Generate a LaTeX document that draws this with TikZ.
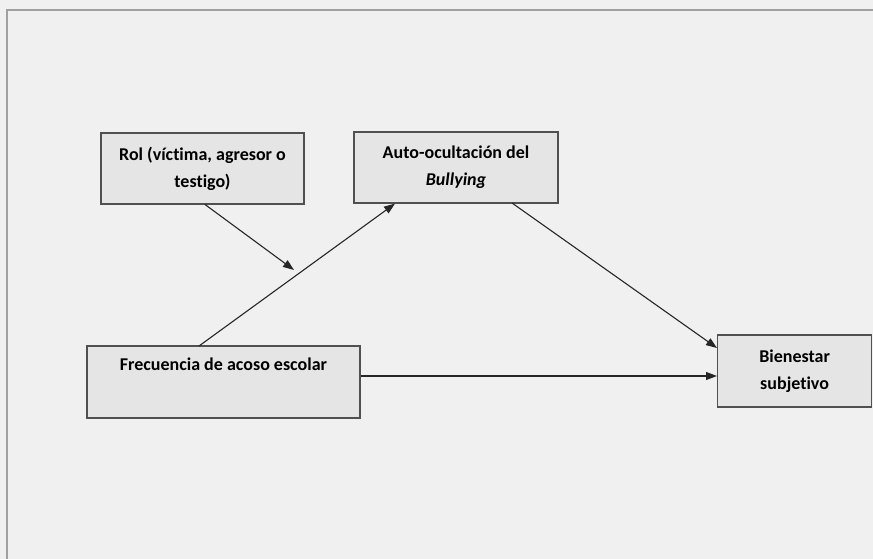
\documentclass[tikz,border=0pt]{standalone}
\usepackage{fontspec}
\setmainfont[Ligatures=NoCommon]{Carlito}
\usetikzlibrary{arrows.meta}
\definecolor{fondo}{HTML}{F0F0F0}
\definecolor{caja}{HTML}{E5E5E5}
\definecolor{borde}{HTML}{505050}
\definecolor{marco}{HTML}{A0A0A0}
\begin{document}
\begin{tikzpicture}[x=1pt,y=-1pt,
    box/.style={draw=borde,fill=caja,line width=1.2pt,inner sep=0pt,align=center,
        font=\fontsize{18}{27}\selectfont\bfseries},
    link/.style={draw=black!85,line width=1.1pt,-{Triangle[length=11pt,width=8pt]}}]
            \fill[fondo] (0,0) rectangle (873,559);
            \useasboundingbox (0,0) rectangle (873,559);
            \draw[marco,line width=1.6pt] (7,559) -- (7,10) -- (873,10);

            \node[box,minimum width=203,minimum height=71] (rol) at (202.5,168.5)
                {Rol (víctima, agresor o\\testigo)};
            \node[box,minimum width=204,minimum height=71] (auto) at (456,167.5)
                {Auto-ocultación del\\\textit{Bullying}};
            \node[box,minimum width=273,minimum height=72] (frec) at (223.5,382)
                {Frecuencia de acoso escolar\\\strut};
            \node[box,minimum width=154,minimum height=72,anchor=west] (bien) at (717,371)
                {Bienestar\\subjetivo};

            \coordinate (mod) at (294,270);

            \draw[link] (205,204.5) -- (mod);
            \draw[link] (199,346) -- (auto.south west -| 395,0);
            \draw[link] (512,203) -- (bien.west |- 0,348);
            \draw[link] (frec.east |- 0,376) -- (bien.west |- 0,376);
\end{tikzpicture}
\end{document}
